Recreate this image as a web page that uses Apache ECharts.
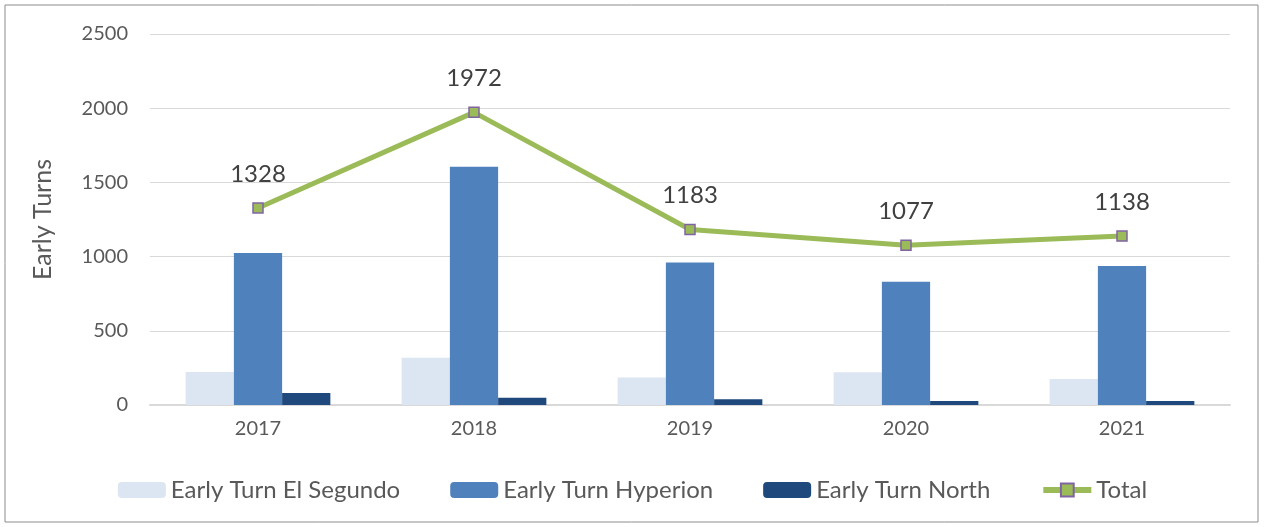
<!DOCTYPE html>
<html>
<head>
<meta charset="utf-8">
<script src="https://cdn.jsdelivr.net/npm/echarts@6/dist/echarts.min.js"></script>
<style>
  html, body { margin: 0; padding: 0; background: #fff; }
  #chart { width: 1265px; height: 527px; }
</style>
</head>
<body>
<div id="chart"></div>
<script>
var years = ['2017', '2018', '2019', '2020', '2021'];
var elSegundo = [222, 318, 185, 220, 175];
var hyperion = [1025, 1605, 960, 830, 936];
var north = [81, 49, 38, 27, 27];
var total = [1328, 1972, 1183, 1077, 1138];

var font = 'Lato, "Open Sans", sans-serif';
var myChart = echarts.init(document.getElementById('chart'));

var option = {
  backgroundColor: '#fff',
  textStyle: { fontFamily: font },
  graphic: [{
    type: 'rect',
    shape: { x: 5, y: 5, width: 1253, height: 517 },
    style: { fill: 'none', stroke: '#8c8c8c', lineWidth: 1 },
    silent: true
  }],
  grid: { left: 150, right: 35, top: 34, bottom: 122 },
  legend: {
    bottom: 20,
    left: 'center',
    itemWidth: 48,
    itemHeight: 16,
    itemGap: 50,
    textStyle: { fontSize: 24, color: '#595959', fontFamily: font },
    data: [
      'Early Turn El Segundo',
      'Early Turn Hyperion',
      'Early Turn North',
      { name: 'Total', lineStyle: { width: 6 } }
    ]
  },
  xAxis: {
    type: 'category',
    data: years,
    axisLine: { lineStyle: { color: '#d9d9d9', width: 2 } },
    axisTick: { show: false },
    axisLabel: { fontSize: 20, color: '#595959', margin: 14 }
  },
  yAxis: {
    type: 'value',
    min: 0,
    max: 2500,
    interval: 500,
    name: 'Early Turns',
    nameLocation: 'middle',
    nameGap: 95,
    nameTextStyle: { fontSize: 25, color: '#595959' },
    axisLine: { show: false },
    axisTick: { show: false },
    axisLabel: {
      fontSize: 20,
      color: '#595959',
      margin: 22,
      formatter: function (v) { return String(v); }
    },
    splitLine: { lineStyle: { color: '#d9d9d9', width: 1 } }
  },
  series: [
    {
      name: 'Early Turn El Segundo',
      type: 'bar',
      data: elSegundo,
      barGap: '0%',
      barCategoryGap: '33%',
      itemStyle: { color: '#dce6f2' }
    },
    {
      name: 'Early Turn Hyperion',
      type: 'bar',
      data: hyperion,
      itemStyle: { color: '#4f81bd' }
    },
    {
      name: 'Early Turn North',
      type: 'bar',
      data: north,
      itemStyle: { color: '#1f497d' }
    },
    {
      name: 'Total',
      type: 'line',
      data: total,
      symbol: 'rect',
      symbolSize: 10,
      lineStyle: { color: '#9bbb59', width: 5 },
      itemStyle: { color: '#9bbb59', borderColor: '#8064a2', borderWidth: 1.5 },
      label: {
        show: true,
        position: 'top',
        distance: 16,
        fontSize: 24,
        color: '#404040',
        fontFamily: font
      },
      z: 5
    }
  ]
};
myChart.setOption(option);
</script>
</body>
</html>
